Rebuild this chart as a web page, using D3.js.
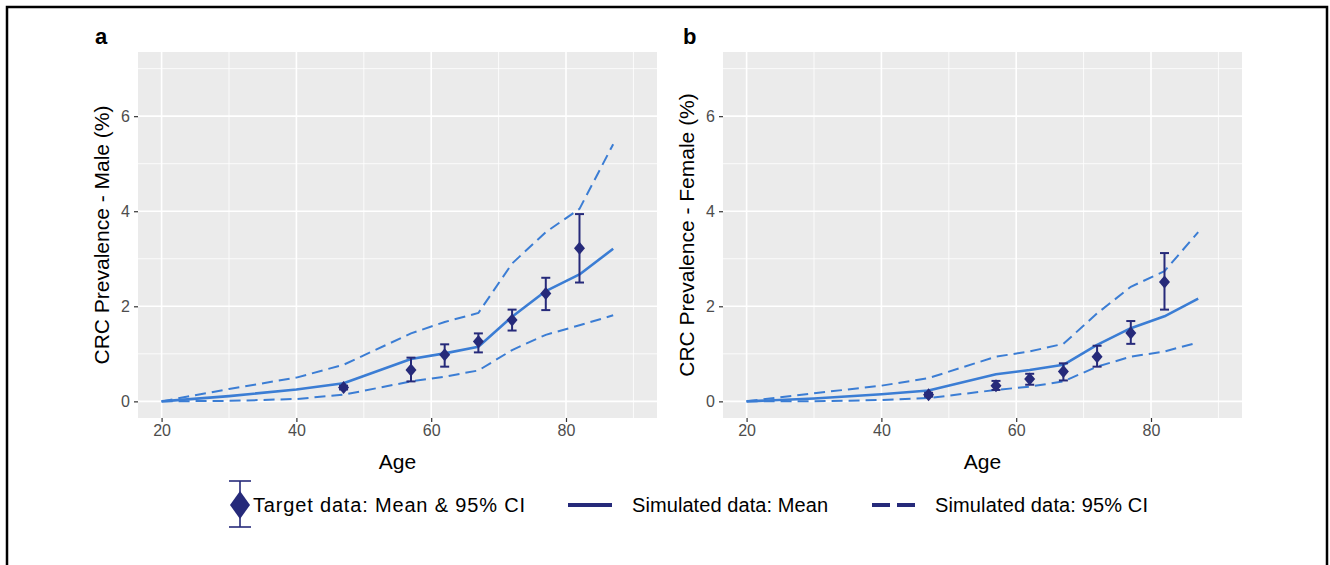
<!DOCTYPE html>
<html>
<head>
<meta charset="utf-8">
<script src="https://cdn.jsdelivr.net/npm/d3@7"></script>
<style>
  html, body { margin: 0; padding: 0; background: #fff; }
  svg { display: block; font-family: Arial, "Liberation Sans", sans-serif; }
</style>
</head>
<body>
<svg id="chart" width="1330" height="565"></svg>
<script>
// ---- data ----
const simAges = [20, 30, 40, 47, 57, 62, 67, 72, 77, 82, 87];
const maleMean  = [0, 0.11, 0.25, 0.38, 0.89, 1.01, 1.15, 1.78, 2.32, 2.67, 3.21];
const maleUpper = [0, 0.26, 0.50, 0.77, 1.43, 1.67, 1.86, 2.90, 3.56, 4.05, 5.41];
const maleLower = [0, 0.01, 0.05, 0.14, 0.42, 0.52, 0.65, 1.08, 1.40, 1.60, 1.81];
const femaleMean  = [0, 0.06, 0.15, 0.23, 0.57, 0.66, 0.77, 1.19, 1.54, 1.79, 2.16];
const femaleUpper = [0, 0.17, 0.33, 0.49, 0.94, 1.05, 1.21, 1.85, 2.41, 2.74, 3.56];
const femaleLower = [0, 0.00, 0.03, 0.07, 0.24, 0.31, 0.42, 0.73, 0.94, 1.05, 1.24];

const targetAges = [47, 57, 62, 67, 72, 77, 82];
const maleTarget   = [0.29, 0.66, 0.98, 1.26, 1.71, 2.27, 3.22];
const maleTargetLo = [0.25, 0.42, 0.73, 1.03, 1.49, 1.92, 2.50];
const maleTargetHi = [0.33, 0.92, 1.20, 1.43, 1.93, 2.60, 3.94];
const femaleTarget   = [0.14, 0.33, 0.47, 0.63, 0.94, 1.44, 2.51];
const femaleTargetLo = [0.10, 0.24, 0.35, 0.44, 0.73, 1.21, 1.93];
const femaleTargetHi = [0.18, 0.43, 0.58, 0.80, 1.17, 1.69, 3.12];

const xTicks = [20, 40, 60, 80];
const xMinor = [30, 50, 70, 90];
const yTicks = [0, 2, 4, 6];
const yMinor = [1, 3, 5, 7];

const panelLabels = ["a", "b"];
const yTitles = ["CRC Prevalence - Male (%)", "CRC Prevalence - Female (%)"];
const xTitle = "Age";
const legendLabels = ["Target data: Mean & 95% CI", "Simulated data: Mean", "Simulated data: 95% CI"];

// ---- styles ----
const lineColor = "#3b7dd4";
const pointColor = "#262a7a";
const bgColor = "#ebebeb";

const svg = d3.select("#chart");

// outer frame
svg.append("path")
  .attr("d", "M7,565 L7,7 L1327,7 L1327,565")
  .attr("fill", "none").attr("stroke", "#000").attr("stroke-width", 2.5);

const panels = [
  { left: 138, right: 657, label: panelLabels[0], labelX: 95, title: yTitles[0], titleX: 102,
    mean: maleMean, upper: maleUpper, lower: maleLower, t: maleTarget, lo: maleTargetLo, hi: maleTargetHi },
  { left: 723, right: 1242, label: panelLabels[1], labelX: 683, title: yTitles[1], titleX: 687,
    mean: femaleMean, upper: femaleUpper, lower: femaleLower, t: femaleTarget, lo: femaleTargetLo, hi: femaleTargetHi }
];
const pTop = 52, pBottom = 418;

panels.forEach((p, i) => {
  const x = d3.scaleLinear().domain([16.5, 93.5]).range([p.left, p.right]);
  const y = d3.scaleLinear().domain([-0.35, 7.35]).range([pBottom, pTop]);
  const g = svg.append("g");

  g.append("rect").attr("x", p.left).attr("y", pTop)
    .attr("width", p.right - p.left).attr("height", pBottom - pTop).attr("fill", bgColor);

  // minor grid
  g.selectAll(".vmin").data(xMinor).join("line")
    .attr("x1", d => x(d)).attr("x2", d => x(d)).attr("y1", pTop).attr("y2", pBottom)
    .attr("stroke", "#fff").attr("stroke-width", 0.8);
  g.selectAll(".hmin").data(yMinor).join("line")
    .attr("y1", d => y(d)).attr("y2", d => y(d)).attr("x1", p.left).attr("x2", p.right)
    .attr("stroke", "#fff").attr("stroke-width", 0.8);
  // major grid
  g.selectAll(".vmaj").data(xTicks).join("line")
    .attr("x1", d => x(d)).attr("x2", d => x(d)).attr("y1", pTop).attr("y2", pBottom)
    .attr("stroke", "#fff").attr("stroke-width", 1.6);
  g.selectAll(".hmaj").data(yTicks).join("line")
    .attr("y1", d => y(d)).attr("y2", d => y(d)).attr("x1", p.left).attr("x2", p.right)
    .attr("stroke", "#fff").attr("stroke-width", 1.6);

  // axes
  const xAxis = g.append("g").attr("transform", `translate(0,${pBottom})`)
    .call(d3.axisBottom(x).tickValues(xTicks).tickSize(4).tickPadding(3));
  const yAxis = g.append("g").attr("transform", `translate(${p.left},0)`)
    .call(d3.axisLeft(y).tickValues(yTicks).tickSize(4).tickPadding(4));
  [xAxis, yAxis].forEach(a => {
    a.select(".domain").remove();
    a.selectAll(".tick line").attr("stroke", "#333").attr("stroke-width", 1.2);
    a.selectAll(".tick text").attr("fill", "#4d4d4d").style("font-size", "16px")
      .style("font-family", "Arial, 'Liberation Sans', sans-serif");
  });

  // simulated lines
  const mk = arr => d3.line().x((d, j) => x(simAges[j])).y(d => y(d))(arr);
  [p.upper, p.lower].forEach(arr => {
    g.append("path").attr("d", mk(arr)).attr("fill", "none")
      .attr("stroke", lineColor).attr("stroke-width", 2).attr("stroke-dasharray", "11,6");
  });
  g.append("path").attr("d", mk(p.mean)).attr("fill", "none")
    .attr("stroke", lineColor).attr("stroke-width", 2.6).attr("stroke-linejoin", "round");

  // target error bars
  const capW = 4.5;
  targetAges.forEach((a, j) => {
    const cx = x(a);
    g.append("line").attr("x1", cx).attr("x2", cx).attr("y1", y(p.lo[j])).attr("y2", y(p.hi[j]))
      .attr("stroke", pointColor).attr("stroke-width", 2);
    [p.lo[j], p.hi[j]].forEach(v => {
      g.append("line").attr("x1", cx - capW).attr("x2", cx + capW).attr("y1", y(v)).attr("y2", y(v))
        .attr("stroke", pointColor).attr("stroke-width", 2);
    });
    const cy = y(p.t[j]);
    g.append("path")
      .attr("d", `M${cx},${cy - 6.5} L${cx + 5.5},${cy} L${cx},${cy + 6.5} L${cx - 5.5},${cy} Z`)
      .attr("fill", pointColor);
  });

  // titles
  g.append("text").attr("x", (p.left + p.right) / 2).attr("y", 469)
    .attr("text-anchor", "middle").style("font-size", "21px").attr("fill", "#000").text(xTitle);
  g.append("text").attr("transform", `translate(${p.titleX},${(pTop + pBottom) / 2}) rotate(-90)`)
    .attr("text-anchor", "middle").attr("dy", "0.35em").style("font-size", "21px").attr("fill", "#000").text(p.title);
  g.append("text").attr("x", p.labelX).attr("y", 44).style("font-size", "22px")
    .style("font-weight", "bold").attr("fill", "#000").text(p.label);
});

// ---- legend ----
const lg = svg.append("g");
const ly = 505;
lg.append("line").attr("x1", 240).attr("x2", 240).attr("y1", 481).attr("y2", 527)
  .attr("stroke", pointColor).attr("stroke-width", 1.6);
[481, 527].forEach(v => lg.append("line").attr("x1", 229).attr("x2", 251).attr("y1", v).attr("y2", v)
  .attr("stroke", pointColor).attr("stroke-width", 1.6));
lg.append("path").attr("d", `M240,${ly - 14} L250,${ly} L240,${ly + 14} L230,${ly} Z`).attr("fill", pointColor);
lg.append("text").attr("x", 253).attr("y", ly + 7).style("font-size", "20px").attr("fill", "#000")
  .attr("textLength", 272).attr("lengthAdjust", "spacing").text(legendLabels[0]);

lg.append("line").attr("x1", 568).attr("x2", 612).attr("y1", ly).attr("y2", ly)
  .attr("stroke", pointColor).attr("stroke-width", 4);
lg.append("text").attr("x", 632).attr("y", ly + 7).style("font-size", "20px").attr("fill", "#000")
  .attr("textLength", 196).attr("lengthAdjust", "spacing").text(legendLabels[1]);

lg.append("line").attr("x1", 872).attr("x2", 915).attr("y1", ly).attr("y2", ly)
  .attr("stroke", pointColor).attr("stroke-width", 4).attr("stroke-dasharray", "18,7");
lg.append("text").attr("x", 935).attr("y", ly + 7).style("font-size", "20px").attr("fill", "#000")
  .attr("textLength", 213).attr("lengthAdjust", "spacing").text(legendLabels[2]);
</script>
</body>
</html>
